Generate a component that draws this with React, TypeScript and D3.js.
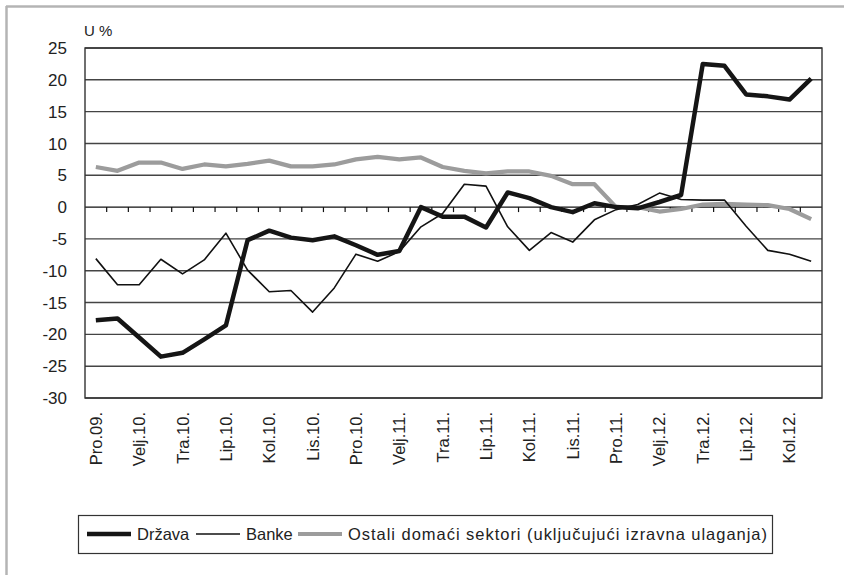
import React, { useRef, useEffect } from "react";
import * as d3 from "d3";

// months Pro.09 .. Ruj.12, every second one is labelled
const months = [
  "Pro.09.", "Sij.10.", "Velj.10.", "Ožu.10.", "Tra.10.", "Svi.10.", "Lip.10.", "Srp.10.", "Kol.10.", "Ruj.10.", "Lis.10.", "Stu.10.",
  "Pro.10.", "Sij.11.", "Velj.11.", "Ožu.11.", "Tra.11.", "Svi.11.", "Lip.11.", "Srp.11.", "Kol.11.", "Ruj.11.", "Lis.11.", "Stu.11.",
  "Pro.11.", "Sij.12.", "Velj.12.", "Ožu.12.", "Tra.12.", "Svi.12.", "Lip.12.", "Srp.12.", "Kol.12.", "Ruj.12.",
];

const drzava = [
  -17.8, -17.5, -20.5, -23.5, -22.9, -20.8, -18.6, -5.2, -3.7, -4.8, -5.2, -4.6,
  -6.0, -7.5, -6.9, 0, -1.5, -1.5, -3.2, 2.3, 1.4, 0, -0.8, 0.6,
  0, -0.2, 0.8, 1.9, 22.5, 22.2, 17.7, 17.4, 16.9, 20.2,
];

const banke = [
  -8.1, -12.2, -12.2, -8.2, -10.5, -8.3, -4.1, -9.9, -13.3, -13.1, -16.5, -12.7,
  -7.4, -8.5, -7.0, -3.1, -1.0, 3.6, 3.3, -3.1, -6.8, -4.0, -5.5, -2.0,
  -0.4, 0.4, 2.2, 1.2, 1.1, 1.1, -3.0, -6.8, -7.4, -8.5,
];

const ostali = [
  6.3, 5.7, 7.0, 7.0, 6.0, 6.7, 6.4, 6.8, 7.3, 6.4, 6.4, 6.7,
  7.5, 7.9, 7.5, 7.8, 6.3, 5.7, 5.3, 5.6, 5.6, 4.9, 3.6, 3.6,
  0, 0, -0.7, -0.3, 0.4, 0.5, 0.4, 0.3, -0.3, -1.9,
];

const yTicks = [25, 20, 15, 10, 5, 0, -5, -10, -15, -20, -25, -30];

const seriesNames = ["Država", "Banke", "Ostali domaći sektori (uključujući izravna ulaganja)"];

const W = 844;
const H = 575;
const FONT = "'Liberation Sans', Arial, sans-serif";

export default function App() {
  const svgRef = useRef<SVGSVGElement>(null);

  useEffect(() => {
    if (!svgRef.current) return;
    const svg = d3.select(svgRef.current);
    svg.selectAll("*").remove();

    const left = 85, right = 822, top = 48, bottom = 398;

    const x = d3.scaleBand<string>().domain(months).range([left, right]);
    const y = d3.scaleLinear().domain([-30, 25]).range([bottom, top]);
    const cx = (i: number) => (x(months[i]) as number) + x.bandwidth() / 2;

    // outer frame (partial, as in the source)
    svg.append("rect").attr("width", W).attr("height", H).attr("fill", "#fff");
    svg.append("line").attr("x1", 6).attr("x2", W).attr("y1", 6.5).attr("y2", 6.5)
      .attr("stroke", "#b4b4b4").attr("stroke-width", 2.5);
    svg.append("line").attr("x1", 6.5).attr("x2", 6.5).attr("y1", 6).attr("y2", H)
      .attr("stroke", "#b4b4b4").attr("stroke-width", 2.5);

    // grid lines
    svg.append("g").selectAll("line").data(yTicks).join("line")
      .attr("x1", left).attr("x2", right)
      .attr("y1", d => y(d)).attr("y2", d => y(d))
      .attr("stroke", d => (d === 0 ? "#111" : "#444"))
      .attr("stroke-width", 1.4);

    // plot border
    svg.append("rect").attr("x", left).attr("y", top)
      .attr("width", right - left).attr("height", bottom - top)
      .attr("fill", "none").attr("stroke", "#333").attr("stroke-width", 1.4);

    // tick marks on the zero line, at band boundaries
    svg.append("g").selectAll("line").data(months.slice(1)).join("line")
      .attr("x1", d => x(d) as number).attr("x2", d => x(d) as number)
      .attr("y1", y(0)).attr("y2", y(0) + 5)
      .attr("stroke", "#111").attr("stroke-width", 1.2);

    // y labels
    svg.append("g").selectAll("text").data(yTicks).join("text")
      .attr("x", 67).attr("y", d => y(d)).attr("dy", "0.36em")
      .attr("text-anchor", "end")
      .attr("font-family", FONT).attr("font-size", 17).attr("fill", "#222")
      .text(d => d);

    svg.append("text").attr("x", 84).attr("y", 36)
      .attr("font-family", FONT).attr("font-size", 15).attr("fill", "#222")
      .text("U %");

    // x labels
    svg.append("g").selectAll("text")
      .data(months.map((m, i) => ({ m, i })).filter(d => d.i % 2 === 0))
      .join("text")
      .attr("transform", d => `translate(${cx(d.i) + 6},${bottom + 14}) rotate(-90)`)
      .attr("text-anchor", "end")
      .attr("font-family", FONT).attr("font-size", 16.5).attr("fill", "#222")
      .text(d => d.m);

    const line = d3.line<number>().x((_, i) => cx(i)).y(d => y(d));

    svg.append("path").datum(ostali).attr("fill", "none")
      .attr("stroke", "#9c9c9c").attr("stroke-width", 4.2)
      .attr("stroke-linejoin", "round").attr("d", line);
    svg.append("path").datum(banke).attr("fill", "none")
      .attr("stroke", "#111").attr("stroke-width", 1.6)
      .attr("stroke-linejoin", "round").attr("d", line);
    svg.append("path").datum(drzava).attr("fill", "none")
      .attr("stroke", "#151515").attr("stroke-width", 4.5)
      .attr("stroke-linejoin", "round").attr("d", line);

    // legend
    const lg = svg.append("g");
    lg.append("rect").attr("x", 78.5).attr("y", 515.5).attr("width", 694).attr("height", 38)
      .attr("fill", "#fff").attr("stroke", "#333").attr("stroke-width", 1.2);
    const items = [
      { name: seriesNames[0], x: 87, stroke: "#151515", w: 4.5, len: 0 },
      { name: seriesNames[1], x: 196, stroke: "#111", w: 1.6, len: 0 },
      { name: seriesNames[2], x: 298, stroke: "#9c9c9c", w: 4.2, len: 419 },
    ];
    items.forEach(it => {
      lg.append("line").attr("x1", it.x).attr("x2", it.x + 44)
        .attr("y1", 534).attr("y2", 534)
        .attr("stroke", it.stroke).attr("stroke-width", it.w);
      const t = lg.append("text").attr("x", it.x + 50).attr("y", 534).attr("dy", "0.36em")
        .attr("font-family", FONT).attr("font-size", 16.5).attr("fill", "#222")
        .text(it.name);
      if (it.len) t.attr("textLength", it.len).attr("lengthAdjust", "spacing");
    });
  }, []);

  return (
    <div style={{ position: "absolute", left: 0, top: 0 }}>
      <svg ref={svgRef} width={W} height={H} style={{ display: "block" }} />
    </div>
  );
}
